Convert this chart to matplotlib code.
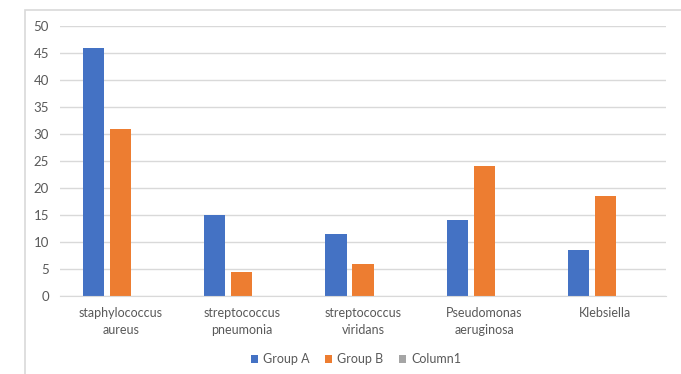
import matplotlib
matplotlib.use("Agg")
import matplotlib.pyplot as plt
from matplotlib.patches import Rectangle
import numpy as np

categories = [
    "staphylococcus\naureus",
    "streptococcus\npneumonia",
    "streptococcus\nviridans",
    "Pseudomonas\naeruginosa",
    "Klebsiella",
]
group_a = [46, 15, 11.5, 14, 8.5]
group_b = [31, 4.5, 6, 24, 18.5]
column1 = [0, 0, 0, 0, 0]
y_ticks = [0, 5, 10, 15, 20, 25, 30, 35, 40, 45, 50]

plt.rcParams["font.family"] = ["Lato", "DejaVu Sans"]
text_color = "#595959"
grid_color = "#D9D9D9"

W, H = 681, 374
fig = plt.figure(figsize=(W / 100, H / 100), dpi=100)

# chart frame (left and top edges visible, the rest runs off the image)
fig.patches.append(
    Rectangle((25 / W, -0.1), 1.2, (H - 10) / H + 0.1, transform=fig.transFigure,
              fill=False, edgecolor=grid_color, linewidth=1.2)
)

ax = fig.add_axes([60 / W, (H - 296) / H, (666 - 60) / W, (296 - 26) / H])

x = np.arange(len(categories))
width = 0.174
step = 0.223
ax.bar(x - step, group_a, width, color="#4472C4", label="Group A")
ax.bar(x, group_b, width, color="#ED7D31", label="Group B")
ax.bar(x + step, column1, width, color="#A5A5A5", label="Column1")

ax.set_xlim(-0.5, len(categories) - 0.5)
ax.set_ylim(0, 50)
ax.set_yticks(y_ticks)
ax.set_xticks(x)
ax.set_xticklabels(categories, linespacing=1.5)
ax.tick_params(axis="both", length=0, colors=text_color, labelsize=9)
ax.tick_params(axis="y", pad=8, labelsize=9.5)
ax.tick_params(axis="x", pad=8)
ax.yaxis.grid(True, color=grid_color, linewidth=1)
ax.set_axisbelow(True)
for side in ["top", "right", "left"]:
    ax.spines[side].set_visible(False)
ax.spines["bottom"].set_color(grid_color)

ax.legend(loc="center", bbox_to_anchor=(356 / W, (H - 359) / H), bbox_transform=fig.transFigure,
          ncol=3, frameon=False, fontsize=9, handlelength=0.6, handleheight=0.6,
          handletextpad=0.4, columnspacing=1.2, labelcolor=text_color)

fig.savefig("out.png", dpi=100)
